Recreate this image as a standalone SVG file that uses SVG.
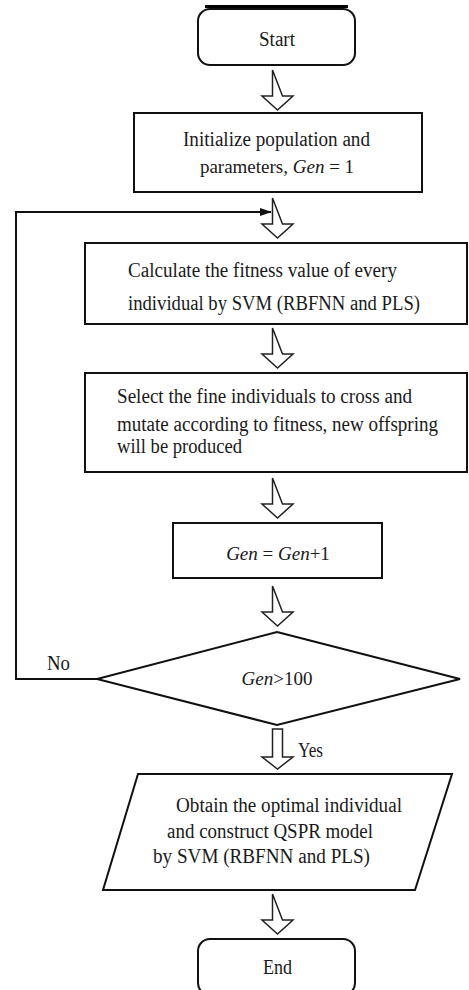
<svg xmlns="http://www.w3.org/2000/svg" xmlns:xlink="http://www.w3.org/1999/xlink" width="469" height="990" viewBox="0 0 469 990">
<style>
.box{fill:#fff;stroke:#111;stroke-width:2}
.arr{fill:#fff;stroke:#222;stroke-width:1.5;stroke-linejoin:miter}
.line{fill:none;stroke:#111;stroke-width:2}
text{font-family:"Liberation Serif","Times New Roman",serif;font-size:20px;fill:#1a1a1a}
.c{font-size:19px;text-anchor:middle}
.it{font-style:italic}
</style>
<defs>
<path id="harrow" d="M-5,0 V26 H-15.5 L0,40 L15.5,26 H5 Z"/>
<marker id="tip" viewBox="0 0 12 8" refX="11" refY="4" markerWidth="12" markerHeight="8" markerUnits="userSpaceOnUse" orient="auto">
<path d="M0,0 L12,4 L0,8 Z" fill="#111"/>
</marker>
</defs>
<rect x="205" y="5" width="143" height="3" fill="#000"/>
<g id="connectors">
<use xlink:href="#harrow" class="arr" transform="translate(277.5,70)"/>
<use xlink:href="#harrow" class="arr" transform="translate(277.5,198)"/>
<use xlink:href="#harrow" class="arr" transform="translate(277.5,328)"/>
<use xlink:href="#harrow" class="arr" transform="translate(277.5,478)"/>
<use xlink:href="#harrow" class="arr" transform="translate(277.5,586)"/>
<path class="arr" d="M272.5,729 V757 H262 L277.5,769 L293,757 H282.5 V729 Z"/>
<use xlink:href="#harrow" class="arr" transform="translate(277.5,894)"/>
<polyline class="line" points="97,679 16,679 16,212 271,212" marker-end="url(#tip)"/>
<text x="47" y="670" textLength="23" lengthAdjust="spacingAndGlyphs">No</text>
<text x="298" y="757" textLength="25" lengthAdjust="spacingAndGlyphs">Yes</text>
</g>
<g id="start">
<rect class="box" x="198" y="9" width="157" height="56" rx="12"/>
<text x="259" y="46" textLength="36" lengthAdjust="spacingAndGlyphs">Start</text>
</g>
<g id="init">
<rect class="box" x="134" y="113" width="288" height="79"/>
<text x="183" y="146" textLength="187" lengthAdjust="spacingAndGlyphs">Initialize population and</text>
<text class="c" x="277" y="173">parameters, <tspan class="it">Gen</tspan> = 1</text>
</g>
<g id="fitness">
<rect class="box" x="85" y="243" width="382" height="81"/>
<text x="128" y="277" textLength="269" lengthAdjust="spacingAndGlyphs">Calculate the fitness value of every</text>
<text x="128" y="310" textLength="292" lengthAdjust="spacingAndGlyphs">individual by SVM (RBFNN and PLS)</text>
</g>
<g id="select">
<rect class="box" x="85" y="373" width="382" height="99"/>
<text x="117" y="403" textLength="295" lengthAdjust="spacingAndGlyphs">Select the fine individuals to cross and</text>
<text x="117" y="431" textLength="321" lengthAdjust="spacingAndGlyphs">mutate according to fitness, new offspring</text>
<text x="117" y="453" textLength="125" lengthAdjust="spacingAndGlyphs">will be produced</text>
</g>
<g id="increment">
<rect class="box" x="173" y="523" width="209" height="55"/>
<text class="c" x="278" y="560"><tspan class="it">Gen</tspan> = <tspan class="it">Gen</tspan>+1</text>
</g>
<g id="decision">
<polygon class="box" points="277,632 460,679 277,725 97,679"/>
<text class="c" x="277" y="685"><tspan class="it">Gen</tspan>&gt;100</text>
</g>
<g id="output">
<polygon class="box" points="138,774 452,774 415,890 103,890"/>
<text x="176" y="812" textLength="226" lengthAdjust="spacingAndGlyphs">Obtain the optimal individual</text>
<text x="167" y="838" textLength="206" lengthAdjust="spacingAndGlyphs">and construct QSPR model</text>
<text x="153" y="863" textLength="217" lengthAdjust="spacingAndGlyphs">by SVM (RBFNN and PLS)</text>
</g>
<g id="end">
<rect class="box" x="198" y="939" width="157" height="56" rx="12"/>
<text x="263" y="974" textLength="29" lengthAdjust="spacingAndGlyphs">End</text>
</g>
</svg>
